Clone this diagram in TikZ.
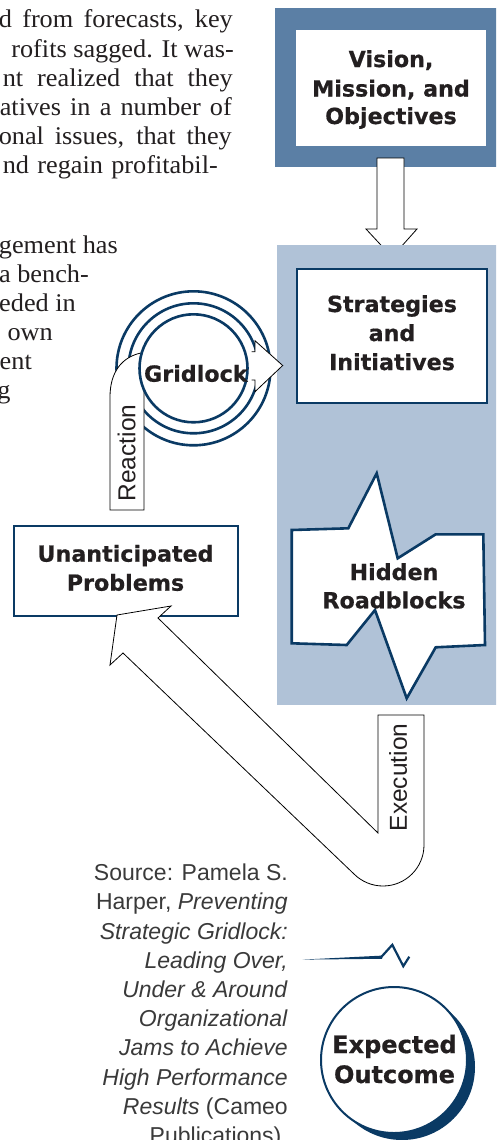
\documentclass[tikz,border=0pt]{standalone}
\usepackage{fontspec}
\setmainfont{Liberation Serif}[FakeStretch=1.03]
\setsansfont{Liberation Sans}
\newfontfamily\heavy{DejaVu Sans}[BoldFeatures={FakeBold=0.6}]
\definecolor{navy}{HTML}{0A3A64}
\definecolor{steel}{HTML}{5B7FA5}
\definecolor{panel}{HTML}{B0C2D7}
\definecolor{srcgray}{HTML}{3A3A3A}
\definecolor{ink}{HTML}{231F20}
\newcommand{\jline}[2]{\makebox[#1pt][s]{#2}}
\begin{document}
\begin{tikzpicture}[x=1pt,y=-1pt,
  body/.style={anchor=base east, inner sep=0pt, font=\fontsize{25.5}{29}\selectfont, text=ink},
  lbl/.style={anchor=base, inner sep=0pt, font=\heavy\bfseries\fontsize{22.2}{28}\selectfont, text=ink},
  biglbl/.style={lbl, font=\heavy\bfseries\fontsize{24}{28}\selectfont},
  src/.style={anchor=base east, inner sep=0pt, font=\sffamily\fontsize{23}{29}\selectfont, text=srcgray},
  tab/.style={inner sep=0pt, font=\sffamily\fontsize{24.5}{29}\selectfont, text=ink, rotate=90},
  ring/.style={draw=navy, line width=2.6pt},
  navybox/.style={draw=navy, line width=2.6pt, fill=white, line join=miter},
  blk/.style={draw=black, line width=0.8pt, line join=miter},
]
\clip (0,0) rectangle (496,1140);
\fill[white] (0,0) rectangle (496,1140);

% ---------- body text fragments ----------
\node[body] (t1) at (233,28) {\jline{234}{d from forecasts, key}};
\node[body] (t2) at (234,57) {rofits sagged. It was-};
\node[body] (t3) at (233,86) {\jline{230}{nt realized that they}};
\node[body] (t4) at (232,115) {\jline{232}{atives in a number of}};
\node[body] (t5) at (232,144) {\jline{233}{onal issues, that they}};
\node[body] (t6) at (218,173) {\jline{215}{nd regain profitabil-}};
\node[body] (u1) at (118,253) {gement has};
\node[body] (u2) at (89,282) {a bench-};
\node[body] (u3) at (76,311) {eded in};
\node[body] (u4) at (53,340) {own};
\node[body] (u5) at (32,369) {ent};
\node[body] (u6) at (10.7,398) {g};

% ---------- Vision box ----------
\fill[steel] (275,8) rectangle (497,167);
\fill[white] (296,30) rectangle (486,146);
\node[lbl] (v1) at (391,67) {Vision,};
\node[lbl] (v2) at (391,96.5) {Mission, and};
\node[lbl] (v3) at (391,124) {Objectives};

% down arrow
\path[blk, fill=white] (377,158) -- (404,158) -- (404,229) -- (417,229) -- (392,257)
  -- (366,229) -- (377,229) -- cycle;

% ---------- light panel ----------
\fill[panel] (277,245) rectangle (497,705);
\draw[navybox] (297,269) rectangle (487,403);
\node[lbl] (s1) at (392,312) {Strategies};
\node[lbl] (s2) at (392,341) {and};
\node[lbl] (s3) at (392,370) {Initiatives};

% hidden roadblocks
\draw[navybox] (376.7,473.3) -- (397.7,558.3) -- (435.7,534.3) -- (483.3,534.3)
  -- (485,645) -- (435.7,647.3) -- (406.7,698.3) -- (375,610) -- (346.7,645)
  -- (291.7,643.3) -- (291.7,530) -- (348.3,528.3) -- cycle;
\node[lbl] (h1) at (394,580) {Hidden};
\node[lbl] (h2) at (394,608.3) {Roadblocks};

% ---------- Gridlock ----------
\draw[ring] (193.5,368.3) circle[radius=77pt];
\draw[ring] (193.5,368.3) circle[radius=65pt];
% reaction band
\fill[white] (110,510) -- (110,397) .. controls (110,372) and (122,357) .. (141,353)
  -- (144,391) -- (144,510) -- cycle;
\draw[blk] (144,391) -- (144,510) -- (110,510) -- (110,397)
  .. controls (110,372) and (122,357) .. (141,353);
\draw[ring, fill=white] (193.5,368.3) circle[radius=54pt];
% gridlock arrow head
\fill[white] (251.7,351.7) -- (255,351.7) -- (255,340.7) -- (282.7,365.5) -- (255,391.7)
  -- (255,380) -- (251.7,380) -- cycle;
\draw[blk] (251.7,351.7) -- (255,351.7) -- (255,340.7) -- (282.7,365.5) -- (255,391.7)
  -- (255,380) -- (251.7,380);
\node[lbl] (grid) at (195.8,381.7) {Gridlock};
\node[tab] (react) at (126.5,453) {Reaction};

% ---------- Unanticipated problems ----------
\draw[navybox] (14,526) rectangle (238,616);
\node[lbl] (p1) at (125.5,561.7) {Unanticipated};
\node[lbl] (p2) at (125.5,590.7) {Problems};

% ---------- Execution band ----------
\path[blk, fill=white] (378,833) -- (378,715) -- (424,715) -- (424,845)
  arc[start angle=0, end angle=-135, radius=41pt]
  -- (123,653) -- (110,665) -- (117,615) -- (171,606) -- (158,618) -- cycle;
\node[tab] (exec) at (398,777.5) {Execution};

% ---------- source ----------
\node[src] (c1) at (288,880.7) {Source: Pamela S.};
\node[src] (c2) at (288,909.9) {Harper, \textit{Preventing}};
\node[src] (c3) at (288,939.1) {\textit{Strategic Gridlock:}};
\node[src] (c4) at (288,968.3) {\textit{Leading Over,}};
\node[src] (c5) at (288,997.5) {\textit{Under \& Around}};
\node[src] (c6) at (288,1026.7) {\textit{Organizational}};
\node[src] (c7) at (288,1055.9) {\textit{Jams to Achieve}};
\node[src] (c8) at (288,1085.1) {\textit{High Performance}};
\node[src] (c9) at (288,1114.3) {\textit{Results} (Cameo};
\node[src] (c10) at (288,1143.5) {Publications).};

% ---------- zigzag ----------
\fill[navy] (302.7,959.6) -- (382,955.6) -- (382,958.8) -- cycle;
\draw[navy, line width=2.2pt, line join=miter] (381,957.3) -- (392.3,944.8)
  -- (403.3,966.2) -- (409.3,956.7);

% ---------- expected outcome ----------
\fill[navy] (402,1067) circle[radius=73pt];
\draw[navy, line width=2pt, fill=white] (394,1060) circle[radius=73pt];
\node[biglbl] (e1) at (394.5,1053) {Expected};
\node[biglbl] (e2) at (394.5,1083) {Outcome};
\end{tikzpicture}
\end{document}
